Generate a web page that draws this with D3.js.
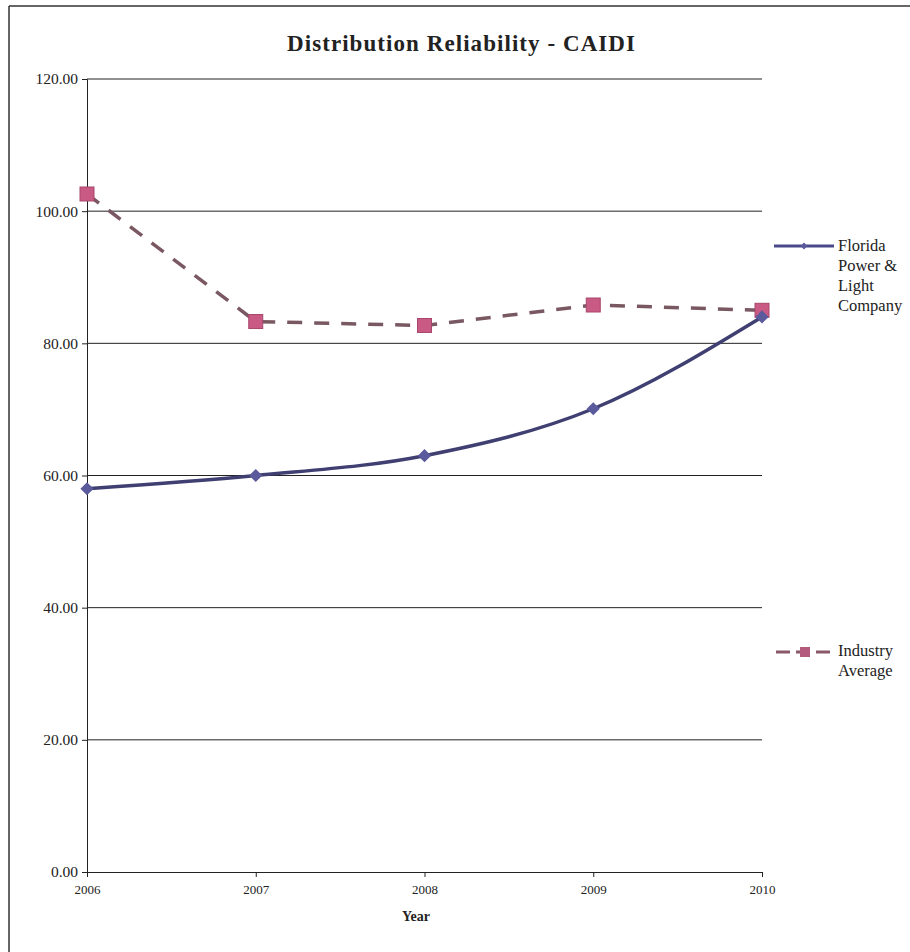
<!DOCTYPE html>
<html>
<head>
<meta charset="utf-8">
<script src="https://cdn.jsdelivr.net/npm/d3@7"></script>
<style>
  body { margin: 0; background: #fff; }
  svg text { font-family: "Liberation Serif", "DejaVu Serif", serif; fill: #222; }
</style>
</head>
<body>
<svg id="chart" width="910" height="952"></svg>
<script>
// chart values
const years = [2006, 2007, 2008, 2009, 2010];
const fplValues = [58.0, 60.0, 63.0, 70.1, 84.0];
const industryValues = [102.6, 83.3, 82.7, 85.8, 85.0];
const yTicks = [0, 20, 40, 60, 80, 100, 120];
const seriesNames = ['Florida Power & Light Company', 'Industry Average'];

const svg = d3.select('#chart');

// frame round the chart
svg.append('line').attr('x1', 9).attr('x2', 910).attr('y1', 6).attr('y2', 6)
    .attr('stroke', '#333').attr('stroke-width', 1.5);
svg.append('line').attr('x1', 9).attr('x2', 9).attr('y1', 6).attr('y2', 952)
    .attr('stroke', '#333').attr('stroke-width', 1.5);

const x = d3.scalePoint().domain(years).range([87, 762]);
const y = d3.scaleLinear().domain([0, 120]).range([872, 79]);

svg.append('text')
    .attr('x', 287).attr('y', 51)
    .attr('textLength', 348).attr('lengthAdjust', 'spacing')
    .style('font-size', '23px').style('font-weight', 'bold')
    .text('Distribution Reliability - CAIDI');

// gridlines
svg.append('g')
    .selectAll('line')
    .data(yTicks.filter(d => d > 0))
    .join('line')
    .attr('x1', x(2006)).attr('x2', x(2010))
    .attr('y1', d => y(d)).attr('y2', d => y(d))
    .attr('stroke', '#222').attr('stroke-width', 1);

let yAxis = svg.append('g')
    .attr('transform', `translate(${x(2006)},0)`)
    .call(d3.axisLeft(y).tickValues(yTicks).tickSize(5).tickFormat(d3.format('.2f')));
yAxis.select('.domain').attr('stroke', '#222');
yAxis.selectAll('.tick line').attr('stroke', '#222');
yAxis.selectAll('text').style('font-size', '15.5px').attr('x', -9);

let xAxis = svg.append('g')
    .attr('transform', `translate(0,${y(0)})`)
    .call(d3.axisBottom(x).tickSize(5).tickFormat(d3.format('d')));
xAxis.select('.domain').attr('stroke', '#222');
xAxis.selectAll('.tick line').attr('stroke', '#222');
xAxis.selectAll('text').style('font-size', '13px').attr('y', 13);

svg.append('text')
    .attr('x', 416).attr('y', 921)
    .attr('text-anchor', 'middle')
    .style('font-size', '14px').style('font-weight', 'bold')
    .text('Year');

// industry average: dashed, square markers
let industryLine = d3.line()
    .x((d, i) => x(years[i]))
    .y(d => y(d));

svg.append('path')
    .datum(industryValues)
    .attr('d', industryLine)
    .attr('fill', 'none')
    .attr('stroke', '#7a5862')
    .attr('stroke-width', 3.5)
    .attr('stroke-dasharray', '15,12');

svg.append('g')
    .selectAll('rect')
    .data(industryValues)
    .join('rect')
    .attr('x', (d, i) => x(years[i]) - 7)
    .attr('y', d => y(d) - 7)
    .attr('width', 14).attr('height', 14)
    .attr('fill', '#c95a83')
    .attr('stroke', '#a8476c').attr('stroke-width', 1);

// FPL: smoothed solid line, diamond markers
let fplLine = d3.line()
    .x((d, i) => x(years[i]))
    .y(d => y(d))
    .curve(d3.curveMonotoneX);

svg.append('path')
    .datum(fplValues)
    .attr('d', fplLine)
    .attr('fill', 'none')
    .attr('stroke', '#3f3f72')
    .attr('stroke-width', 3.5);

svg.append('g')
    .selectAll('path')
    .data(fplValues)
    .join('path')
    .attr('transform', (d, i) => `translate(${x(years[i])},${y(d)})`)
    .attr('d', d3.symbol(d3.symbolDiamond2, 110))
    .attr('fill', '#5a5a9c');

// legend
let legend = svg.append('g');
let fplKey = legend.append('g').attr('transform', 'translate(774,246)');
fplKey.append('line').attr('x1', 0).attr('x2', 60)
    .attr('stroke', '#4a4a8a').attr('stroke-width', 3);
fplKey.append('path').attr('transform', 'translate(30,0)')
    .attr('d', d3.symbol(d3.symbolDiamond2, 30)).attr('fill', '#5a5a9c');
fplKey.selectAll('text')
    .data(['Florida', 'Power &', 'Light', 'Company'])
    .join('text')
    .attr('x', 64).attr('y', (d, i) => 5 + i * 20)
    .style('font-size', '16.5px')
    .text(d => d);

let indKey = legend.append('g').attr('transform', 'translate(776,652)');
indKey.append('line').attr('x1', 0).attr('x2', 58)
    .attr('stroke', '#8a5868').attr('stroke-width', 3)
    .attr('stroke-dasharray', '14,6');
indKey.append('rect').attr('x', 24).attr('y', -5).attr('width', 10).attr('height', 10)
    .attr('fill', '#b45a7c');
indKey.selectAll('text')
    .data(['Industry', 'Average'])
    .join('text')
    .attr('x', 62).attr('y', (d, i) => 4 + i * 20)
    .style('font-size', '16.5px')
    .text(d => d);
</script>
</body>
</html>
